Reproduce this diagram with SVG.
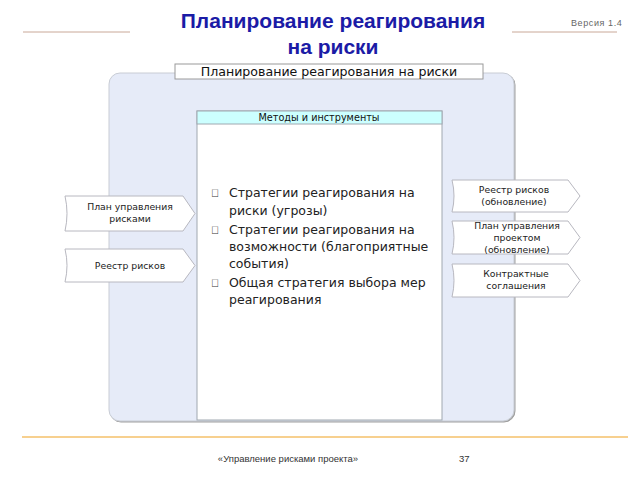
<svg xmlns="http://www.w3.org/2000/svg" width="640" height="480" viewBox="0 0 640 480">
<style>
text{font-family:"Liberation Sans",Arial,sans-serif;fill:#222}
.ttl{font-size:21px;font-weight:bold;fill:#1b1ba6;text-anchor:middle}
.arr{fill:#fff;stroke:#b8b8c0;stroke-width:1}
.al{font-family:"DejaVu Sans",Verdana,sans-serif;font-size:9.3px;text-anchor:middle;fill:#222}
.bl{font-family:"DejaVu Sans",Verdana,sans-serif;font-size:12.5px;fill:#222}
.bu{font-size:11px;fill:#333}
.ft{font-size:9.5px;fill:#333}
</style>
<defs>
<filter id="sh" x="-5%" y="-5%" width="110%" height="110%">
<feDropShadow dx="1" dy="1" stdDeviation="0.6" flood-color="#777" flood-opacity="0.7"/>
</filter>
</defs>
<rect width="640" height="480" fill="#fff"/>
<g id="header">
<line x1="23" y1="32" x2="130" y2="32" stroke="#c9a898" stroke-width="1"/>
<line x1="512" y1="32" x2="617" y2="32" stroke="#c9a898" stroke-width="1"/>
<text class="ttl" x="333" y="28">Планирование реагирования</text>
<text class="ttl" x="333" y="54">на риски</text>
<text x="571" y="26" style="font-size:9px;letter-spacing:0.6px;fill:#666">Версия 1.4</text>
</g>
<g id="panel">
<rect x="109" y="73" width="405" height="348" rx="11" fill="#e6ebf8" stroke="#c8ccd4" stroke-width="1" filter="url(#sh)"/>
</g>
<g id="panel-title">
<rect x="175" y="64" width="308" height="15" fill="#fff" stroke="#9a9a9a" stroke-width="1"/>
<text x="329" y="76" style="font-family:'DejaVu Sans',Verdana,sans-serif;font-size:12.6px;text-anchor:middle;fill:#111">Планирование реагирования на риски</text>
</g>
<g id="methods">
<rect x="197" y="111" width="245" height="309" fill="#fff" stroke="#a0a8b0" stroke-width="1"/>
<rect x="197" y="111" width="245" height="13" fill="#ccffff" stroke="#a0a8b0" stroke-width="1"/>
<text x="319" y="121" style="font-family:'DejaVu Sans',Verdana,sans-serif;font-size:9.7px;text-anchor:middle;fill:#111">Методы и инструменты</text>
<text class="bu" x="211" y="197">&#xF0D8;</text>
<text class="bl" x="229" y="197">Стратегии реагирования на</text>
<text class="bl" x="229" y="215">риски (угрозы)</text>
<text class="bu" x="211" y="234">&#xF0D8;</text>
<text class="bl" x="229" y="234">Стратегии реагирования на</text>
<text class="bl" x="229" y="251">возможности (благоприятные</text>
<text class="bl" x="229" y="268">события)</text>
<text class="bu" x="211" y="287">&#xF0D8;</text>
<text class="bl" x="229" y="287">Общая стратегия выбора мер</text>
<text class="bl" x="229" y="304">реагирования</text>
</g>
<g id="in-plan">
<path class="arr" d="M65,196 H183 L195,213.5 L183,231 H65 Q69,213.5 65,196 Z"/>
<text class="al" x="130" y="210">План управления</text>
<text class="al" x="130" y="222">рисками</text>
</g>
<g id="in-register">
<path class="arr" d="M65,249 H183 L195,265.5 L183,282 H65 Q69,265.5 65,249 Z"/>
<text class="al" x="130" y="269">Реестр рисков</text>
</g>
<g id="out-register">
<path class="arr" d="M452,180 H568 L580,196 L568,212 H452 Q456,196 452,180 Z"/>
<text class="al" x="514" y="193">Реестр рисков</text>
<text class="al" x="514" y="205">(обновление)</text>
</g>
<g id="out-plan">
<path class="arr" d="M452,221 H568 L580,237.5 L568,254 H452 Q456,237.5 452,221 Z"/>
<text class="al" x="517" y="229">План управления</text>
<text class="al" x="517" y="241">проектом</text>
<text class="al" x="517" y="253">(обновление)</text>
</g>
<g id="out-contracts">
<path class="arr" d="M452,264 H568 L580,280.5 L568,297 H452 Q456,280.5 452,264 Z"/>
<text class="al" x="516" y="277">Контрактные</text>
<text class="al" x="516" y="289">соглашения</text>
</g>
<g id="connectors"></g>
<g id="footer">
<line x1="22" y1="437" x2="628" y2="437" stroke="#f4c16a" stroke-width="1.5"/>
<text class="ft" x="288" y="462" style="text-anchor:middle">«Управление рисками проекта»</text>
<text class="ft" x="459" y="462">37</text>
</g>
</svg>
